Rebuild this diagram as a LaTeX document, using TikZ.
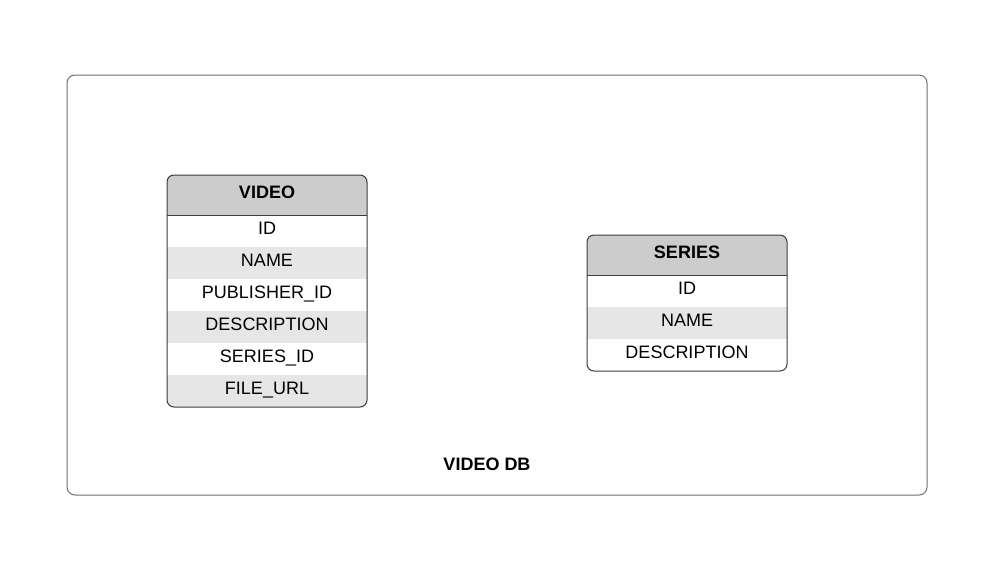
\documentclass[tikz,border=0pt]{standalone}
\usepackage{fontspec}
\setmainfont{Liberation Sans}
\usetikzlibrary{positioning}
\definecolor{headgray}{RGB}{204,204,204}
\definecolor{rowgray}{RGB}{230,230,230}
\definecolor{edgegray}{RGB}{60,60,60}
\definecolor{framegray}{RGB}{110,110,110}
\begin{document}
\begin{tikzpicture}[x=1pt, y=-1pt,
    tabhead/.style={minimum width=200pt, minimum height=40pt, inner sep=0pt, outer sep=0pt, fill=headgray,
      text height=13pt, text depth=6pt, font=\fontsize{18}{20}\selectfont\bfseries},
    tabrow/.style={minimum width=200pt, minimum height=32pt, inner sep=0pt, outer sep=0pt,
      text height=13pt, text depth=6pt, font=\fontsize{18}{20}\selectfont},
    tablebox/.style={draw=edgegray, line width=1pt, rounded corners=7pt},
    dbframe/.style={draw=framegray, line width=1pt, rounded corners=8pt}
  ]
    \useasboundingbox (0,0) rectangle (994,565);

    % Outer frame
    \node[dbframe, minimum width=860pt, minimum height=420pt] (db) at (497,285) {};
    \node[font=\fontsize{18}{20}\selectfont\bfseries] (dblabel) at (487,464) {VIDEO DB};

    % VIDEO table
    \begin{scope}
      \clip[rounded corners=7pt] (167,175) rectangle (367,407);
      \node[tabhead, anchor=north west] (vhead) at (167,175) {VIDEO};
      \foreach \t/\c [count=\i, remember=\i as \j (initially head)] in
        {ID/white, NAME/rowgray, PUBLISHER\_ID/white, DESCRIPTION/rowgray, SERIES\_ID/white, FILE\_URL/rowgray}
        \node[tabrow, fill=\c, below=0pt of v\j] (v\i) {\t};
    \end{scope}
    \draw[edgegray, line width=1pt] (vhead.south west) -- (vhead.south east);
    \draw[tablebox] (vhead.north west) rectangle (v6.south east);

    % SERIES table
    \begin{scope}
      \clip[rounded corners=7pt] (587,235) rectangle (787,371);
      \node[tabhead, anchor=north west] (shead) at (587,235) {SERIES};
      \foreach \t/\c [count=\i, remember=\i as \j (initially head)] in
        {ID/white, NAME/rowgray, DESCRIPTION/white}
        \node[tabrow, fill=\c, below=0pt of s\j] (s\i) {\t};
    \end{scope}
    \draw[edgegray, line width=1pt] (shead.south west) -- (shead.south east);
    \draw[tablebox] (shead.north west) rectangle (s3.south east);
\end{tikzpicture}
\end{document}
